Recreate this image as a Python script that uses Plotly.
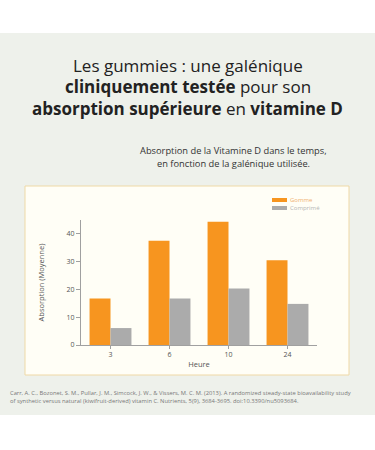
import plotly.graph_objects as go

hours = ["3", "6", "10", "24"]
gomme = [16.7, 37.5, 44.4, 30.5]
comprime = [6.1, 16.7, 20.3, 14.8]
series_names = ["Gomme", "Comprimé"]
y_ticks = [0, 10, 20, 30, 40]

W, H = 375, 450
L, R, T, B = 81, 317, 220, 345  # plot area in pixels


def px(x):
    return (x - L) / (R - L)


def py(y):
    return (B - y) / (B - T)


ORANGE = "#f7951f"
GRAY = "#ababab"
FONT = "Open Sans"

fig = go.Figure()
fig.add_trace(go.Bar(x=hours, y=gomme, name=series_names[0], marker_color=ORANGE,
                     marker_line_width=0))
fig.add_trace(go.Bar(x=hours, y=comprime, name=series_names[1], marker_color=GRAY,
                     marker_line_width=0))

shapes = [
    dict(type="rect", xref="paper", yref="paper", x0=px(0), x1=px(W), y0=py(415), y1=py(33),
         fillcolor="#eef1eb", line_width=0, layer="below"),
    dict(type="rect", xref="paper", yref="paper", x0=px(25), x1=px(349), y0=py(375), y1=py(186),
         fillcolor="#fffef6", line=dict(color="#efd9a6", width=1), layer="below"),
    # legend swatches
    dict(type="rect", xref="paper", yref="paper", x0=px(272), x1=px(287), y0=py(202), y1=py(198),
         fillcolor=ORANGE, line_width=0),
    dict(type="rect", xref="paper", yref="paper", x0=px(272), x1=px(287), y0=py(210), y1=py(206),
         fillcolor=GRAY, line_width=0),
]

annotations = []
title_lines = [
    "Les gummies : une galénique",
    "<b>cliniquement testée</b> pour son",
    "<b>absorption supérieure</b> en <b>vitamine D</b>",
]
title_y = [66, 86.5, 108]
for t, yy in zip(title_lines, title_y):
    annotations.append(dict(text=t, x=px(187.5), y=py(yy), xref="paper", yref="paper",
                            showarrow=False, xanchor="center", yanchor="middle", borderpad=0,
                            font=dict(family=FONT, size=17, color="#222222")))
sub_lines = ["Absorption de la Vitamine D dans le temps,", "en fonction de la galénique utilisée."]
for i, t in enumerate(sub_lines):
    annotations.append(dict(text=t, x=px(233.5), y=py(150 + i * 13.5), xref="paper", yref="paper",
                            showarrow=False, xanchor="center", yanchor="middle", borderpad=0,
                            font=dict(family=FONT, size=9.3, color="#333333")))
cite = ["Carr, A. C., Bozonet, S. M., Pullar, J. M., Simcock, J. W., & Vissers, M. C. M. (2013). A randomized steady-state bioavailability study",
        "of synthetic versus natural (kiwifruit-derived) vitamin C. Nutrients, 5(9), 3684-3695. doi:10.3390/nu5093684."]
for i, t in enumerate(cite):
    annotations.append(dict(text=t, x=px(9), y=py(393 + i * 7.5), xref="paper", yref="paper",
                            showarrow=False, xanchor="left", yanchor="middle", borderpad=0,
                            font=dict(family=FONT, size=5.8, color="#777777")))
leg_colors = ["#f0b070", "#b5b5b5"]
for i, n in enumerate(series_names):
    annotations.append(dict(text=n, x=px(289), y=py(200 + i * 8), xref="paper", yref="paper",
                            showarrow=False, xanchor="left", yanchor="middle", borderpad=0,
                            font=dict(family=FONT, size=6, color=leg_colors[i])))

fig.update_layout(
    width=W, height=H,
    margin=dict(l=L, r=W - R, t=T, b=H - B, pad=0),
    paper_bgcolor="white", plot_bgcolor="rgba(0,0,0,0)",
    barmode="group", bargap=0.29, bargroupgap=0,
    showlegend=False,
    shapes=shapes, annotations=annotations,
    font=dict(family=FONT, size=7, color="#555555"),
)
fig.update_xaxes(showline=True, linecolor="#a0a0a0", linewidth=1, ticks="outside", ticklen=3,
                 tickcolor="#a0a0a0", showgrid=False, tickfont=dict(size=7, color="#555555"),
                 title=dict(text="Heure", font=dict(size=7.5, color="#555555"), standoff=3))
fig.update_yaxes(range=[0, 45], tickvals=y_ticks, showline=True, linecolor="#a0a0a0", linewidth=1,
                 ticks="outside", ticklen=4, tickcolor="#a0a0a0", showgrid=False, zeroline=False,
                 tickfont=dict(size=7, color="#555555"),
                 title=dict(text="Absorption (Moyenne)", font=dict(size=7.5, color="#555555"), standoff=20))

fig.write_html("out.html")
